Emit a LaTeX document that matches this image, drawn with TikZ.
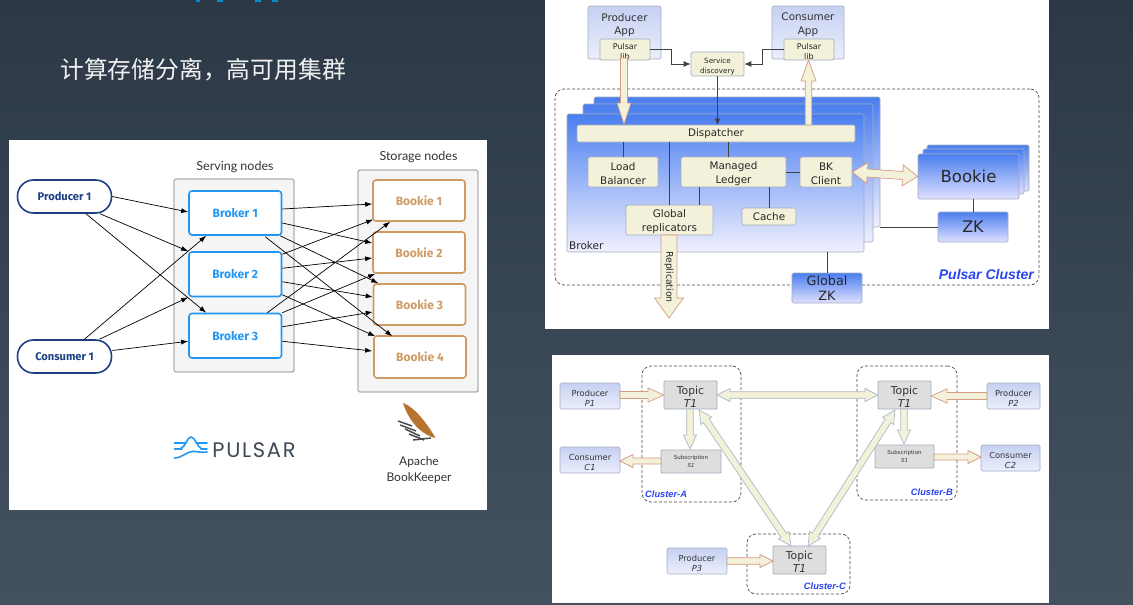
\documentclass[tikz,border=0pt]{standalone}
\usepackage{fontspec}
\setmainfont{DejaVu Sans}
\newfontfamily\cjkf{Noto Sans CJK SC}
\newfontfamily\fira{Fira Sans}
\newfontfamily\lato{Lato}
\newfontfamily\lib{Liberation Sans}
\newfontfamily\pop[LetterSpace=8]{Poppins}
\usetikzlibrary{calc,arrows.meta}
\definecolor{bgtop}{HTML}{2C3845}
\definecolor{bgbot}{HTML}{44525F}
\definecolor{navy}{HTML}{1F3F85}
\definecolor{bblue}{HTML}{2196F3}
\definecolor{tanb}{HTML}{D09A64}
\definecolor{tanf}{HTML}{F4F1DA}
\definecolor{edgeg}{HTML}{A4AEC0}
\definecolor{pblue}{HTML}{2A45F0}
\definecolor{redge}{HTML}{D59A82}
\definecolor{gedge}{HTML}{A9BBC8}
\definecolor{deepb}{HTML}{4A7EEF}
\definecolor{logog}{HTML}{3E4A57}
\definecolor{apptop}{HTML}{C6D0F2}
\definecolor{appbot}{HTML}{EBEFFC}
\newcommand\tl{\rule{0pt}{11pt}}
\tikzset{
  lbl/.style={font=\lato\fontsize{12.5}{14}\selectfont,text=black!80,inner sep=0pt,align=center},
  group/.style={draw=black!55,fill=black!4,rounded corners=1.5pt,line width=.7pt},
  client/.style={draw=navy,fill=white,rounded corners=16pt,line width=1.6pt,text=navy,font=\fira\bfseries\fontsize{11.1}{12}\selectfont},
  brokerbox/.style={draw=bblue,fill=white,rounded corners=3pt,line width=1.6pt,text=bblue,font=\fira\bfseries\fontsize{12}{13}\selectfont},
  bookiebox/.style={draw=tanb,fill=white,rounded corners=3pt,line width=1.6pt,text=tanb,font=\fira\bfseries\fontsize{12}{13}\selectfont},
  conn/.style={-{Latex[length=7pt,width=5pt]},line width=.7pt,black},
  dashbox/.style={draw=black!70,dashed,dash pattern=on 3pt off 2pt,rounded corners=9pt,line width=.7pt},
  appbox/.style={draw=edgeg,rounded corners=1.5pt,top color=apptop,bottom color=appbot,line width=.7pt,align=center,text=black!80},
  tanbox/.style={draw=edgeg,fill=tanf,rounded corners=1.5pt,line width=.7pt,align=center,text=black!85},
  brokerlayer/.style={draw=edgeg,rounded corners=1.5pt,top color=deepb,bottom color=white!94!blue,line width=.6pt},
  strongbox/.style={draw=edgeg,rounded corners=1.5pt,top color=deepb,bottom color=white!88!blue,line width=.7pt,align=center,text=black!85},
  topicbox/.style={draw=edgeg,fill=black!13,rounded corners=1pt,line width=.8pt,align=center,text=black!80},
  reply/.style={line width=.8pt,black!75},
  redblock/.style={draw=redge,fill=tanf,line width=.7pt,line join=miter},
  greyblock/.style={draw=gedge,fill=tanf,line width=.7pt,line join=miter},
  cname/.style={font=\lib\bfseries\itshape\fontsize{9.3}{11}\selectfont,text=pblue,inner sep=0pt},
}
% box by its corners
\newcommand\nd[7]{%
  \pgfmathsetmacro\bw{#5-#3}\pgfmathsetmacro\bh{#6-#4}%
  \node[#1,minimum width=\bw pt,minimum height=\bh pt,inner sep=0pt] (#2) at ({(#3+#5)/2},{(#4+#6)/2}) {#7};}
% block arrow: style, from, to, half shaft, half head, head length
\newcommand\sblock[6]{%
  \draw[#1] ($(#2)!#4pt!90:(#3)$) -- ($($(#3)!#6pt!(#2)$)!#4pt!90:(#3)$) -- ($($(#3)!#6pt!(#2)$)!#5pt!90:(#3)$) -- (#3)
    -- ($($(#3)!#6pt!(#2)$)!#5pt!-90:(#3)$) -- ($($(#3)!#6pt!(#2)$)!#4pt!-90:(#3)$) -- ($(#2)!#4pt!-90:(#3)$) -- cycle;}
\newcommand\dblock[6]{%
  \draw[#1] (#2) -- ($($(#2)!#6pt!(#3)$)!#5pt!90:(#3)$) -- ($($(#2)!#6pt!(#3)$)!#4pt!90:(#3)$)
    -- ($($(#3)!#6pt!(#2)$)!#4pt!90:(#3)$) -- ($($(#3)!#6pt!(#2)$)!#5pt!90:(#3)$) -- (#3)
    -- ($($(#3)!#6pt!(#2)$)!#5pt!-90:(#3)$) -- ($($(#3)!#6pt!(#2)$)!#4pt!-90:(#3)$)
    -- ($($(#2)!#6pt!(#3)$)!#4pt!-90:(#3)$) -- ($($(#2)!#6pt!(#3)$)!#5pt!-90:(#3)$) -- cycle;}
\begin{document}
\begin{tikzpicture}[x=1pt,y=-1pt]
\useasboundingbox (0,0) rectangle (1133,605);
\shade[top color=bgtop,bottom color=bgbot] (0,0) rectangle (1133,605);
% cut-off title remains at the top edge
\foreach \a/\b in {196/200,217/223,255/261,272/278}
  \fill[cyan!70!blue] (\a,0) rectangle (\b,1.6);
\node[font=\cjkf\fontsize{23.8}{26}\selectfont,text=white!95!black,inner sep=0pt,anchor=west] (title) at (60,69.5) {计算存储分离^^^^ff0c高可用集群};

% ---------- panel 1
\fill[white] (9,140) rectangle (487,510);
\nd{group}{serving}{174}{179}{294}{372}{}
\nd{group}{storage}{358}{170}{478}{392}{}
\node[lbl] (servl) at (235,167) {Serving nodes};
\node[lbl] (storl) at (418.5,157.5) {Storage nodes};
\nd{client}{p1}{17.5}{180}{111.5}{213}{Producer 1}
\nd{client}{c1}{17.5}{340}{111.5}{373}{Consumer 1}
\nd{brokerbox}{b1}{189}{191}{281.5}{235}{Broker 1}
\nd{brokerbox}{b2}{189}{252}{281.5}{296.5}{Broker 2}
\nd{brokerbox}{b3}{189}{313.5}{281.5}{358}{Broker 3}
\nd{bookiebox}{k1}{373}{180}{465}{221}{Bookie 1}
\nd{bookiebox}{k2}{373}{232}{465}{273}{Bookie 2}
\nd{bookiebox}{k3}{373.5}{284}{465.5}{325}{Bookie 3}
\nd{bookiebox}{k4}{374}{336}{466}{378}{Bookie 4}
\draw[conn] (p1.east) -- ($(b1.west)+(0,-1)$);
\draw[conn] ($(p1.south)+(35.5,0)$) -- (b2.north west);
\draw[conn] ($(p1.south)+(21.5,0)$) -- ($(b3.north west)+(18,0)$);
\draw[conn] ($(c1.north)+(20,0)$) -- ($(b1.south west)+(18,0)$);
\draw[conn] ($(c1.north)+(35,0)$) -- (b2.south west);
\draw[conn] ($(c1.east)+(0,-6)$) -- ($(b3.west)+(0,5.5)$);
\draw[conn] ($(b1.east)+(0,-4)$) -- ($(k1.west)+(0,3.5)$);
\draw[conn] ($(b1.east)+(0,10)$) -- ($(k2.west)+(0,-9.5)$);
\draw[conn] ($(b1.south east)+(-2,0)$) -- ($(k3.north west)+(5.5,0)$);
\draw[conn] ($(b1.south east)+(-17,1)$) -- ($(k4.north west)+(19,1)$);
\draw[conn] ($(b2.east)+(0,-20)$) -- ($(k1.west)+(1,19)$);
\draw[conn] ($(b2.east)+(0,-6)$) -- ($(k2.west)+(0,5.5)$);
\draw[conn] ($(b2.east)+(0,7.5)$) -- ($(k3.west)+(0,-7.5)$);
\draw[conn] ($(b2.east)+(0,20.5)$) -- ($(k4.north west)+(2,1)$);
\draw[conn] ($(b3.north east)+(-15,0)$) -- ($(k1.south west)+(18,0)$);
\draw[conn] (b3.north east) -- ($(k2.south west)+(3,0)$);
\draw[conn] ($(b3.east)+(0,-9)$) -- ($(k3.west)+(0,7.5)$);
\draw[conn] ($(b3.east)+(0,5.5)$) -- ($(k4.west)+(-1,-6)$);
% Pulsar logo
\draw[bblue,line width=1.6pt,line cap=round]
  (174.5,443) -- (185,443) (197,443) -- (207,443) (174.5,449) -- (182,449) (201,449) -- (207,449)
  (180,449) .. controls (186,447) and (187,437) .. (191,437) .. controls (195,437) and (197,447) .. (202,449)
  (174.5,458) .. controls (182,458) and (186,452) .. (192,451.5) .. controls (197,451) and (200,453) .. (207,452);
\node[font=\pop\fontsize{21}{22}\selectfont,text=logog,inner sep=0pt] (pulsartext) at (254,450.5) {PULSAR};
% BookKeeper feather
\foreach \a/\b/\c/\d in {398/421/412/426,400/425/416/431,405/429/420/436,409/434/424/440,413/440/431/438}
  \draw[black!70,line width=1.5pt] (\a,\b) -- (\c,\d);
\fill[brown!80!orange!90!black] (403,403) .. controls (415,407) and (428,425) .. (435.5,438) .. controls (425,436) and (410,425) .. (403,403) -- cycle;
\node[lbl,font=\lato\fontsize{12}{16}\selectfont] (bk) at (419,470) {Apache\\BookKeeper};

% ---------- panel 2
\fill[white] (545,0) rectangle (1049,329);
\nd{dashbox}{cluster}{555}{89}{1039}{285}{}
\nd{brokerlayer}{br3}{594}{97}{880}{227}{}
\nd{brokerlayer}{br2}{583}{104}{873}{242}{}
\nd{brokerlayer}{br1}{567}{114}{864}{252}{}
\node[font=\fontsize{10.5}{11}\selectfont,text=black!85,inner sep=0pt,anchor=south west] (brokerl) at (569,250) {Broker};
\nd{appbox}{papp}{588}{6}{661}{59}{}
\nd{appbox}{capp}{772}{6}{844}{59}{}
\node[font=\fontsize{10.4}{13.8}\selectfont,align=center,text=black!80,inner sep=0pt,anchor=north] (ptxt) at (624.5,13) {Producer\\App};
\node[font=\fontsize{10.4}{13.8}\selectfont,align=center,text=black!80,inner sep=0pt,anchor=north] (ctxt) at (808,13) {Consumer\\App};
\nd{tanbox,font=\fontsize{8}{10}\selectfont}{plib}{600}{40}{650}{59}{\tl Pulsar\\lib}
\nd{tanbox,font=\fontsize{8}{10}\selectfont}{clib}{784}{40}{834}{59}{\tl Pulsar\\lib}
\nd{tanbox,font=\fontsize{7.2}{10}\selectfont}{sd}{691}{52}{744}{76}{\tl Service\\discovery}
\nd{tanbox,font=\fontsize{10.3}{12}\selectfont}{disp}{577}{125}{855}{142}{Dispatcher}
\nd{tanbox,font=\fontsize{10.4}{13.5}\selectfont}{lb}{588}{157}{658}{187}{\tl Load\\Balancer}
\nd{tanbox,font=\fontsize{10.4}{13.5}\selectfont}{ml}{681}{157}{786}{187}{\tl Managed\\Ledger}
\nd{tanbox,font=\fontsize{10.4}{13.5}\selectfont}{bkc}{800}{157}{852}{187}{\tl BK\\Client}
\nd{tanbox,font=\fontsize{10.4}{13.5}\selectfont}{gr}{626}{205}{713}{235}{\tl Global\\replicators}
\nd{tanbox,font=\fontsize{10.4}{12}\selectfont}{cache}{742}{208}{796}{225}{Cache}
% layered bookies
\nd{strongbox}{bk3}{927}{145}{1029}{191}{}
\nd{strongbox}{bk2}{923}{149}{1024}{194}{}
\nd{strongbox,font=\fontsize{16.5}{18}\selectfont}{bk1}{918}{154}{1019}{199}{Bookie}
\nd{strongbox,font=\fontsize{16}{18}\selectfont}{zk}{938}{212}{1008}{242}{ZK}
\nd{strongbox,font=\fontsize{12.8}{15}\selectfont}{gzk}{792}{273}{862}{303}{Global\\ZK}
% thin connections
\coordinate (mlt) at ($(ml.north)+(-5,0)$);
\coordinate (grt) at ($(gr.north east)+(-14,0)$);
\draw[reply] (lb.north) -- (lb.north |- disp.south);
\draw[reply] (gr.north) -- (gr.north |- disp.south);
\draw[reply] (mlt) -- (mlt |- disp.south);
\draw[reply] (grt) -- (grt |- ml.south);
\draw[reply] (cache.north) -- (cache.north |- ml.south);
\draw[reply] (ml.east) -- (bkc.west);
\draw[reply] (zk.north |- bk1.south) -- (zk.north);
\draw[reply] (zk.west) -- (br3.south east |- zk.west);
\draw[reply] (gzk.north) -- (gzk.north |- br1.south);
\draw[reply,-{Latex[length=7pt,width=6pt]}] (plib.east) -- ++(21,0) |- (sd.west);
\draw[reply,-{Latex[length=7pt,width=6pt]}] (clib.west) -- ++(-21,0) |- (sd.east);
\draw[reply,-{Latex[length=6pt,width=6pt]}] (sd.south) -- (sd.south |- disp.north);
% block arrows
\coordinate (pa) at (624,58); \coordinate (pb) at (624,124);
\sblock{redblock}{pa}{pb}{3.5}{7}{21}
\coordinate (ca) at (808.5,125); \coordinate (cb) at (808.5,60);
\sblock{redblock}{ca}{cb}{3.3}{7.5}{21}
\coordinate (ra) at (669,235); \coordinate (rb) at (669,318);
\sblock{redblock}{ra}{rb}{8}{14.5}{20}
\node[rotate=-90,font=\fontsize{9.3}{10}\selectfont,text=black!85,inner sep=0pt] (repl) at (669,277) {Replication};
\dblock{redblock}{bkc.east}{bk1.west}{4}{10.5}{15}
\node[font=\lib\bfseries\itshape\fontsize{14}{15}\selectfont,text=pblue,inner sep=0pt,anchor=east] (pc) at (1034,274) {Pulsar Cluster};

% ---------- panel 3
\fill[white] (552,355) rectangle (1049,603);
\nd{dashbox}{ca1}{642}{366}{741}{502}{}
\nd{dashbox}{cb1}{857}{366}{957}{500}{}
\nd{dashbox}{cc1}{747}{534}{850}{594}{}
\tikzset{small/.style={appbox,font=\fontsize{8.3}{10.5}\selectfont}}
\nd{small}{prod1}{560}{383}{620}{409}{\tl Producer\\{\itshape P1}}
\nd{small}{cons1}{560}{447}{620}{473}{\tl Consumer\\{\itshape C1}}
\nd{small}{prod2}{987}{383}{1040}{409}{\tl Producer\\{\itshape P2}}
\nd{small}{cons2}{981}{445}{1040}{471}{\tl Consumer\\{\itshape C2}}
\nd{small}{prod3}{667}{548}{727}{574}{\tl Producer\\{\itshape P3}}
\tikzset{tp/.style={topicbox,font=\fontsize{10.8}{12.5}\selectfont},sb/.style={topicbox,font=\fontsize{5.5}{7.5}\selectfont}}
\nd{tp}{ta}{664}{381}{717}{409}{\rule{0pt}{12pt}Topic\\{\itshape T1}}
\nd{tp}{tb}{878}{381}{931}{409}{\rule{0pt}{12pt}Topic\\{\itshape T1}}
\nd{tp}{tc}{773}{546}{826}{574}{\rule{0pt}{12pt}Topic\\{\itshape T1}}
\nd{sb}{sa}{661}{450}{721}{473}{Subscription\\{\itshape S1}}
\nd{sb}{sbb}{875}{445}{934}{468}{Subscription\\{\itshape S1}}
\node[cname,anchor=west] (cla) at (645,494) {Cluster-A};
\node[cname,anchor=east] (clb) at (953,492) {Cluster-B};
\node[cname,anchor=east] (clc) at (846,586) {Cluster-C};
\coordinate (a1) at (620,395); \coordinate (a2) at (664,395);
\sblock{redblock}{a1}{a2}{3.5}{7}{16}
\coordinate (a3) at (987,396); \coordinate (a4) at (931,396);
\sblock{redblock}{a3}{a4}{3.5}{7}{16}
\coordinate (a5) at (661,461); \coordinate (a6) at (620,461);
\sblock{redblock}{a5}{a6}{3}{6.5}{13}
\coordinate (a7) at (934,457); \coordinate (a8) at (981,457);
\sblock{redblock}{a7}{a8}{3}{6.5}{13}
\coordinate (a9) at (727,561); \coordinate (a10) at (773,561);
\sblock{redblock}{a9}{a10}{3.3}{6.5}{13}
\coordinate (a11) at (690,409); \coordinate (a12) at (690,449);
\sblock{greyblock}{a11}{a12}{3.3}{6.5}{14}
\coordinate (a13) at (904,409); \coordinate (a14) at (904,444);
\sblock{greyblock}{a13}{a14}{3.3}{6.5}{14}
\coordinate (d1) at (717,395); \coordinate (d2) at (878,395);
\dblock{greyblock}{d1}{d2}{3.3}{6.5}{13}
\coordinate (d3) at (699,410); \coordinate (d4) at (791,546);
\dblock{greyblock}{d3}{d4}{3.3}{6.5}{13}
\coordinate (d5) at (895,410); \coordinate (d6) at (808,546);
\dblock{greyblock}{d5}{d6}{3.3}{6.5}{13}
\end{tikzpicture}
\end{document}
